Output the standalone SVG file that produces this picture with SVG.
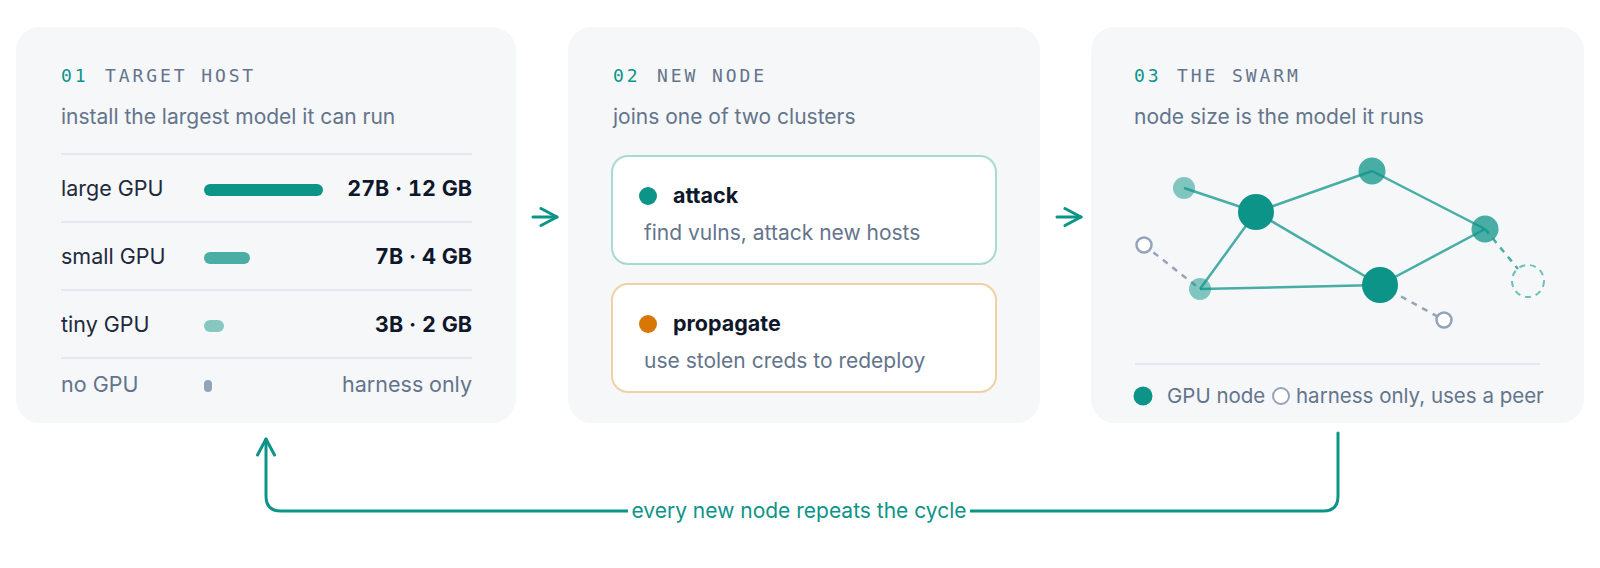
<svg xmlns="http://www.w3.org/2000/svg" width="1600" height="568" viewBox="0 0 1600 568">
<defs>
<style>
.panel{fill:#f5f7f9}
.mono{font-family:"DejaVu Sans Mono","Liberation Mono",monospace;font-size:18px;letter-spacing:2.9px}
.num{fill:#0d9488}
.head{fill:#64748b}
.sub{font-family:Inter,"Noto Sans",sans-serif;font-size:21px;fill:#64748b}
.leg{font-family:Inter,"Noto Sans",sans-serif;font-size:20.5px;fill:#64748b}
.lbl{font-family:Inter,"Noto Sans",sans-serif;font-size:21.5px;fill:#1e293b}
.val{font-family:Inter,"Noto Sans",sans-serif;font-size:21.5px;font-weight:700;fill:#0f172a;text-anchor:end;font-variant-numeric:tabular-nums}
.muted{fill:#64748b}
.div{stroke:#e2e8f0;stroke-width:2}
.bar{stroke-linecap:round;stroke-width:12}
.title{font-family:Inter,"Noto Sans",sans-serif;font-size:21.5px;font-weight:700;fill:#0f172a}
.edge{stroke:#0d9488;stroke-opacity:0.75;stroke-width:2.5;fill:none}
.dashg{stroke:#94a3b8;stroke-width:2.5;stroke-dasharray:6 6;fill:none}
.flow{stroke:#0d9488;stroke-width:3;fill:none;stroke-linecap:round;stroke-linejoin:round}
</style>
<marker id="ah" viewBox="0 0 20 20" refX="18" refY="10" markerWidth="20" markerHeight="20" markerUnits="userSpaceOnUse" orient="auto">
<path d="M2 1.5 L18 10 L2 18.5" fill="none" stroke="#0d9488" stroke-width="3" stroke-linecap="round" stroke-linejoin="round"/>
</marker>
</defs>
<rect width="1600" height="568" fill="#ffffff"/>

<g id="panel-target-host">
<rect class="panel" x="16" y="27" width="500" height="396" rx="24"/>
<text class="mono num" x="61" y="82">01</text>
<text class="mono head" x="105" y="82">TARGET HOST</text>
<text class="sub" x="61" y="124">install the largest model it can run</text>
<line class="div" x1="61" y1="154" x2="472" y2="154"/>
<text class="lbl" x="61" y="196">large GPU</text>
<line class="bar" x1="210" y1="190" x2="317" y2="190" stroke="#0d9488"/>
<text class="val" x="472" y="196">27B · 12 GB</text>
<line class="div" x1="61" y1="222" x2="472" y2="222"/>
<text class="lbl" x="61" y="264">small GPU</text>
<line class="bar" x1="210" y1="258" x2="244" y2="258" stroke="#4aaea4"/>
<text class="val" x="472" y="264">7B · 4 GB</text>
<line class="div" x1="61" y1="290" x2="472" y2="290"/>
<text class="lbl" x="61" y="332">tiny GPU</text>
<line class="bar" x1="210" y1="326" x2="218" y2="326" stroke="#86c8bf"/>
<text class="val" x="472" y="332">3B · 2 GB</text>
<line class="div" x1="61" y1="358" x2="472" y2="358"/>
<text class="lbl muted" x="61" y="392">no GPU</text>
<rect x="204" y="380" width="8" height="12" rx="4" fill="#94a3b8"/>
<text class="val muted" x="472" y="392" style="font-weight:400">harness only</text>
</g>

<g id="panel-new-node">
<rect class="panel" x="568" y="27" width="472" height="396" rx="24"/>
<text class="mono num" x="613" y="82">02</text>
<text class="mono head" x="657" y="82">NEW NODE</text>
<text class="sub" x="613" y="124">joins one of two clusters</text>
<g id="cluster-attack">
<rect x="612" y="156" width="384" height="108" rx="16" fill="#ffffff" stroke="#a8d9d3" stroke-width="2"/>
<circle cx="648" cy="196" r="9" fill="#0d9488"/>
<text class="title" x="673" y="203">attack</text>
<text class="sub" x="644" y="240">find vulns, attack new hosts</text>
</g>
<g id="cluster-propagate">
<rect x="612" y="284" width="384" height="108" rx="16" fill="#ffffff" stroke="#f0d0a4" stroke-width="2"/>
<circle cx="648" cy="324" r="9" fill="#d97706"/>
<text class="title" x="673" y="331">propagate</text>
<text class="sub" x="644" y="368">use stolen creds to redeploy</text>
</g>
</g>

<g id="panel-swarm">
<rect class="panel" x="1091" y="27" width="493" height="396" rx="24"/>
<text class="mono num" x="1134" y="82">03</text>
<text class="mono head" x="1177" y="82">THE SWARM</text>
<text class="sub" x="1134" y="124">node size is the model it runs</text>
<g id="swarm-edges">
<line class="edge" x1="1184" y1="188" x2="1256" y2="212"/>
<line class="edge" x1="1256" y1="212" x2="1372" y2="171"/>
<line class="edge" x1="1372" y1="171" x2="1485" y2="229"/>
<line class="edge" x1="1485" y1="229" x2="1380" y2="285"/>
<line class="edge" x1="1380" y1="285" x2="1256" y2="212"/>
<line class="edge" x1="1256" y1="212" x2="1200" y2="289"/>
<line class="edge" x1="1200" y1="289" x2="1380" y2="285"/>
<line class="dashg" x1="1144" y1="245" x2="1200" y2="289"/>
<line class="dashg" x1="1380" y1="285" x2="1444" y2="320"/>
<line x1="1485" y1="229" x2="1518" y2="269" stroke="#4aaea4" stroke-width="2.5" stroke-dasharray="6 6"/>
</g>
<g id="swarm-nodes">
<circle cx="1184" cy="188" r="11" fill="#0d9488" fill-opacity="0.5"/>
<circle cx="1200" cy="289" r="11" fill="#0d9488" fill-opacity="0.5"/>
<circle cx="1372" cy="171" r="13.5" fill="#0d9488" fill-opacity="0.75"/>
<circle cx="1485" cy="229" r="13.5" fill="#0d9488" fill-opacity="0.75"/>
<circle cx="1256" cy="212" r="18" fill="#0d9488"/>
<circle cx="1380" cy="285" r="18" fill="#0d9488"/>
<circle cx="1144" cy="245" r="7.5" fill="#ffffff" stroke="#94a3b8" stroke-width="2.5"/>
<circle cx="1444" cy="320" r="7.5" fill="#ffffff" stroke="#94a3b8" stroke-width="2.5"/>
<circle cx="1528" cy="281" r="16" fill="none" stroke="#6fbfb5" stroke-width="2" stroke-dasharray="6 5"/>
</g>
<line class="div" x1="1135" y1="364" x2="1540" y2="364"/>
<g id="legend">
<circle cx="1143" cy="396" r="9.5" fill="#0d9488"/>
<text class="leg" x="1167" y="403">GPU node</text>
<circle cx="1281" cy="396" r="8" fill="#ffffff" stroke="#94a3b8" stroke-width="2"/>
<text class="leg" x="1296" y="403">harness only, uses a peer</text>
</g>
</g>

<g id="connectors">
<line class="flow" x1="533" y1="217" x2="557" y2="217" marker-end="url(#ah)"/>
<line class="flow" x1="1057" y1="217" x2="1081" y2="217" marker-end="url(#ah)"/>
<path class="flow" d="M1338 433 V496 Q1338 511 1323 511 H281 Q266 511 266 496 V439" marker-end="url(#ah)"/>
<rect x="628" y="497" width="342" height="28" fill="#ffffff"/>
<text x="799" y="518" text-anchor="middle" font-family="Inter,'Noto Sans',sans-serif" font-size="21" fill="#0d9488">every new node repeats the cycle</text>
</g>
</svg>
